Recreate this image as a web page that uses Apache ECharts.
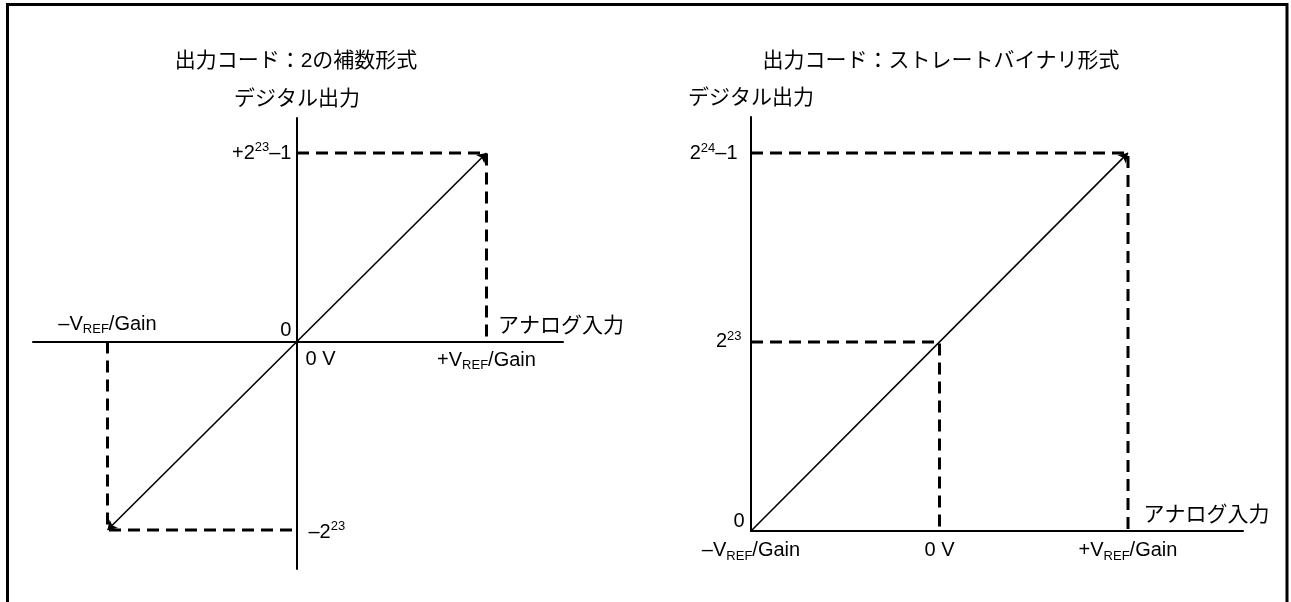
<!DOCTYPE html>
<html>
<head>
<meta charset="utf-8">
<script src="https://cdn.jsdelivr.net/npm/echarts@6/dist/echarts.min.js"></script>
<style>
html, body { margin: 0; padding: 0; background: #fff; }
#chart { width: 1291px; height: 602px; }
</style>
</head>
<body>
<div id="chart"></div>
<script>
// 2の補数形式 (x: VREF/Gain 単位, y: 2^23 単位)
const twosTransfer = [[-1, -1], [1, 1]];
const twosGuideTop = [[0, 1], [1, 1], [1, 0]];
const twosGuideBottom = [[-1, 0], [-1, -1], [0, -1]];
const twosLabelPoints = [[0, 1], [0, 0], [-1, 0], [0, 0], [1, 0], [1, 0], [0, -1]];
const twosLabelTexts = [
    '{n|+2}{sup|23}{n|–1}', '{n|0}', '{n|–V}{sub|REF}{n|/Gain}', '{n|0 V}',
    '{n|+V}{sub|REF}{n|/Gain}', '{jp|アナログ入力}', '{n|–2}{sup|23}'
];

// ストレートバイナリ形式 (x: VREF/Gain 単位, y: 2^23 単位)
const binTransfer = [[-1, 0], [1, 2]];
const binGuideTop = [[-1, 2], [1, 2], [1, 0]];
const binGuideMid = [[-1, 1], [0, 1], [0, 0]];
const binLabelPoints = [[-1, 2], [-1, 1], [-1, 0], [-1, 0], [0, 0], [1, 0], [1, 0]];
const binLabelTexts = [
    '{n|2}{sup|24}{n|–1}', '{n|2}{sup|23}', '{n|0}', '{n|–V}{sub|REF}{n|/Gain}',
    '{n|0 V}', '{n|+V}{sub|REF}{n|/Gain}', '{jp|アナログ入力}'
];

const titles = ['出力コード：2の補数形式', '出力コード：ストレートバイナリ形式'];
const yName = 'デジタル出力';

// label placement (style only)
const twosPlace = [
    {position: 'left', distance: 5},
    {position: 'left', distance: 5, offset: [0, -11]},
    {position: 'top', distance: 5},
    {position: 'right', distance: 8, offset: [0, 18]},
    {position: 'bottom', distance: 6},
    {position: 'right', distance: 11, offset: [0, -17]},
    {position: 'right', distance: 11, offset: [0, 2]}
];
const binPlace = [
    {position: 'left', distance: 13, offset: [0, 1]},
    {position: 'left', distance: 9},
    {position: 'left', distance: 6, offset: [0, -10]},
    {position: 'bottom', distance: 7},
    {position: 'bottom', distance: 7},
    {position: 'bottom', distance: 7},
    {position: 'right', distance: 15, offset: [0, -18]}
];

const LATIN = '"Liberation Sans", Arial, "Noto Sans CJK JP", sans-serif';
const JP = '"Noto Sans CJK JP", sans-serif';
const rich = {
    n: {fontFamily: LATIN, fontSize: 20, lineHeight: 24, color: '#000'},
    sup: {fontFamily: LATIN, fontSize: 13, lineHeight: 13, verticalAlign: 'top', color: '#000'},
    sub: {fontFamily: LATIN, fontSize: 13, lineHeight: 13, verticalAlign: 'bottom', color: '#000'},
    jp: {fontFamily: JP, fontSize: 21, lineHeight: 24, color: '#000'}
};

function axis(min, max, onZero) {
    return {
        type: 'value', min: min, max: max,
        axisLine: {show: true, onZero: onZero, lineStyle: {color: '#000', width: 2}},
        axisTick: {show: false}, axisLabel: {show: false}, splitLine: {show: false}
    };
}
function yAxisNamed(idx, min, max, onZero) {
    const a = axis(min, max, onZero);
    a.gridIndex = idx;
    a.name = yName;
    a.nameLocation = 'end';
    a.nameGap = 10;
    a.nameTextStyle = {fontFamily: JP, fontSize: 21, color: '#000'};
    return a;
}
function guide(idx, data) {
    return {
        type: 'line', xAxisIndex: idx, yAxisIndex: idx, data: data, symbol: 'none', silent: true,
        lineStyle: {color: '#000', width: 3, type: [12, 7]}
    };
}
function transfer(idx, coords, symbols) {
    return {
        type: 'lines', coordinateSystem: 'cartesian2d', xAxisIndex: idx, yAxisIndex: idx,
        symbol: symbols, symbolSize: 9, silent: true,
        lineStyle: {color: '#000', width: 1.6, opacity: 1},
        data: [{coords: coords}]
    };
}
function labels(idx, points, texts, places) {
    return {
        type: 'scatter', xAxisIndex: idx, yAxisIndex: idx, symbolSize: 1, silent: true,
        itemStyle: {color: 'rgba(0,0,0,0)', opacity: 1},
        data: points.map(function (p, i) {
            return {
                value: p,
                label: Object.assign({show: true, formatter: texts[i], rich: rich, color: '#000', opacity: 1}, places[i])
            };
        })
    };
}

const x0 = axis(-1.3931, 1.4037, true);
const x1 = axis(-1, 1.610, false);
x1.gridIndex = 1;

var option = {
    animation: false,
    backgroundColor: '#fff',
    graphic: [
        {type: 'rect', shape: {x: 7.5, y: 4.5, width: 1279.5, height: 640},
         style: {fill: 'none', stroke: '#000', lineWidth: 3}},
        {type: 'text', x: 296, y: 61,
         style: {text: titles[0], font: '21px ' + LATIN, fill: '#000',
                 align: 'center', verticalAlign: 'middle', textAlign: 'center', textVerticalAlign: 'middle'}},
        {type: 'text', x: 941, y: 61,
         style: {text: titles[1], font: '21px ' + LATIN, fill: '#000',
                 align: 'center', verticalAlign: 'middle', textAlign: 'center', textVerticalAlign: 'middle'}}
    ],
    grid: [
        {left: 33, top: 118, width: 530, height: 451},
        {left: 751, top: 117, width: 492, height: 414}
    ],
    xAxis: [x0, x1],
    yAxis: [
        yAxisNamed(0, -1.2069, 1.1857, true),
        yAxisNamed(1, 0, 2.190, false)
    ],
    series: [
        guide(0, twosGuideTop),
        guide(0, twosGuideBottom),
        transfer(0, twosTransfer, ['arrow', 'arrow']),
        labels(0, twosLabelPoints, twosLabelTexts, twosPlace),
        guide(1, binGuideTop),
        guide(1, binGuideMid),
        transfer(1, binTransfer, ['none', 'arrow']),
        labels(1, binLabelPoints, binLabelTexts, binPlace)
    ]
};

var chart = echarts.init(document.getElementById('chart'));
chart.setOption(option);
window.addEventListener('resize', function () { chart.resize(); });
</script>
</body>
</html>
